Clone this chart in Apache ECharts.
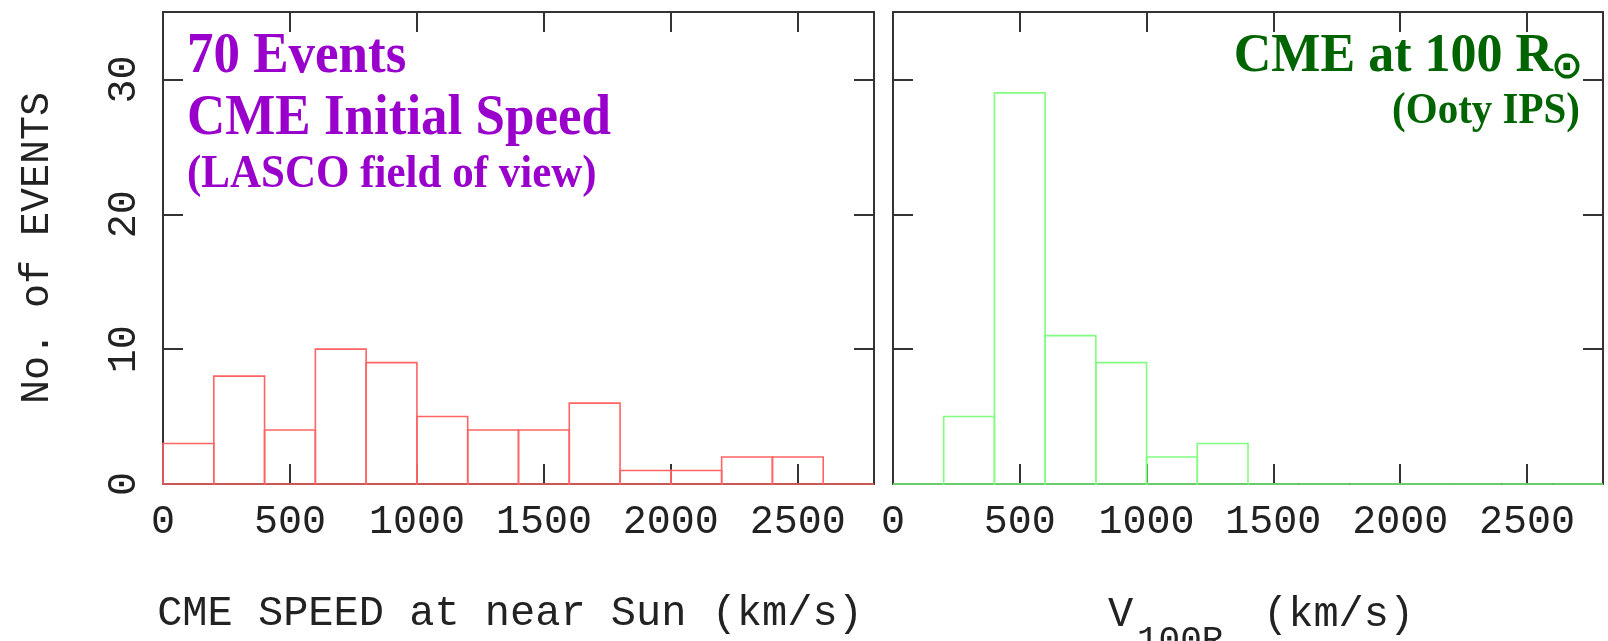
<!DOCTYPE html>
<html>
<head>
<meta charset="utf-8">
<script src="https://cdn.jsdelivr.net/npm/echarts@6/dist/echarts.min.js"></script>
<style>
html,body{margin:0;padding:0;background:#fff;}
#chart{width:1608px;height:641px;}
</style>
</head>
<body>
<div id="chart"></div>
<script>
// ---- data ----
const speedBinEdges = [0, 200, 400, 600, 800, 1000, 1200, 1400, 1600, 1800, 2000, 2200, 2400, 2600, 2800];
const lascoCounts = [3, 8, 4, 10, 9, 5, 4, 4, 6, 1, 1, 2, 2, 0];
const ipsCounts   = [0, 5, 29, 11, 9, 2, 3, 0, 0, 0, 0, 0, 0, 0];
const leftTitleLines = ['70 Events', 'CME Initial Speed', '(LASCO field of view)'];
const rightTitleLines = ['CME at 100 R', '⊙', '(Ooty IPS)'];
const xAxisTitleLeft = 'CME SPEED at near Sun (km/s)';
const xAxisTitleRight = ['V', '100R', '⊙', '(km/s)'];
const yAxisTitle = 'No. of EVENTS';

function toBins(edges, counts) {
  return counts.map((c, i) => [edges[i], edges[i + 1], c]);
}

const MONO = '"Liberation Mono", "DejaVu Sans Mono", monospace';
const SERIF = '"Liberation Serif", "Times New Roman", serif';
const AXC = '#333';
const TXT = '#222';

function xAx(gi, pos, labels) {
  return {
    type: 'value', gridIndex: gi, position: pos, min: 0, max: 2800, interval: 500,
    axisLine: { show: true, onZero: false, lineStyle: { color: AXC, width: 2 } },
    axisTick: { show: true, inside: true, length: 20, lineStyle: { color: AXC, width: 2 } },
    axisLabel: { show: labels, margin: 18, fontSize: 40, fontFamily: MONO, color: TXT, showMaxLabel: false,
      formatter: v => String(v) },
    splitLine: { show: false }
  };
}
function yAx(gi, pos, labels) {
  return {
    type: 'value', gridIndex: gi, position: pos, min: 0, max: 35, interval: 10,
    axisLine: { show: true, onZero: false, lineStyle: { color: AXC, width: 2 } },
    axisTick: { show: true, inside: true, length: 20, lineStyle: { color: AXC, width: 2 } },
    axisLabel: { show: labels, rotate: 90, margin: 19, fontSize: 40, fontFamily: MONO, color: TXT, showMaxLabel: false,
      formatter: v => String(v) },
    splitLine: { show: false }
  };
}

function histRender(color) {
  return function (params, api) {
    const x0 = api.value(0), x1 = api.value(1), h = api.value(2);
    const p0 = api.coord([x0, 0]);
    const p1 = api.coord([x1, h]);
    return {
      type: 'rect',
      shape: { x: p0[0], y: p1[1], width: p1[0] - p0[0], height: p0[1] - p1[1] },
      style: { fill: 'none', stroke: color, lineWidth: 1.6 }
    };
  };
}

const xLeft = xAx(0, 'bottom', true);
xLeft.name = xAxisTitleLeft;
xLeft.nameLocation = 'middle';
xLeft.nameGap = 109;
xLeft.nameTextStyle = { fontSize: 42, fontFamily: MONO, color: TXT, padding: [0, 17, 0, 0] };

const yLeft = yAx(0, 'left', true);
yLeft.name = yAxisTitle;
yLeft.nameLocation = 'middle';
yLeft.nameRotate = 90;
yLeft.nameGap = 106;
yLeft.nameTextStyle = { fontSize: 40, fontFamily: MONO, color: TXT };

const chart = echarts.init(document.getElementById('chart'), null, { renderer: 'canvas' });
chart.setOption({
  animation: false,
  backgroundColor: '#fff',
  grid: [
    { left: 163, top: 12, width: 711, height: 472 },
    { left: 893, top: 12, width: 710, height: 472 }
  ],
  xAxis: [xLeft, xAx(0, 'top', false), xAx(1, 'bottom', true), xAx(1, 'top', false)],
  yAxis: [yLeft, yAx(0, 'right', false), yAx(1, 'left', false), yAx(1, 'right', false)],
  series: [
    { type: 'custom', xAxisIndex: 0, yAxisIndex: 0, renderItem: histRender('#ff6464'),
      encode: { x: [0, 1], y: 2 }, data: toBins(speedBinEdges, lascoCounts), z: 1 },
    { type: 'custom', xAxisIndex: 2, yAxisIndex: 2, renderItem: histRender('#80ff80'),
      encode: { x: [0, 1], y: 2 }, data: toBins(speedBinEdges, ipsCounts), z: 1 }
  ],
  graphic: [
    { type: 'text', x: 187, y: 57, scaleY: 1.06, style: { text: leftTitleLines[0], font: 'bold 53px ' + SERIF, fill: '#9900cc', textAlign: 'left', textVerticalAlign: 'middle' } },
    { type: 'text', x: 187, y: 119, scaleY: 1.06, style: { text: leftTitleLines[1], font: 'bold 53px ' + SERIF, fill: '#9900cc', textAlign: 'left', textVerticalAlign: 'middle' } },
    { type: 'text', x: 187, y: 175, scaleY: 1.06, style: { text: leftTitleLines[2], font: 'bold 43px ' + SERIF, fill: '#9900cc', textAlign: 'left', textVerticalAlign: 'middle' } },
    { type: 'text', x: 1553, y: 57, scaleY: 1.06, style: { text: rightTitleLines[0], font: 'bold 52px ' + SERIF, fill: '#006400', textAlign: 'right', textVerticalAlign: 'middle' } },
    { type: 'text', x: 1567, y: 68, style: { text: rightTitleLines[1], font: 'bold 38px "DejaVu Sans", sans-serif', fill: '#006400', textAlign: 'center', textVerticalAlign: 'middle' } },
    { type: 'text', x: 1580, y: 112, scaleY: 1.06, style: { text: rightTitleLines[2], font: 'bold 41px ' + SERIF, fill: '#006400', textAlign: 'right', textVerticalAlign: 'middle' } },
    { type: 'text', x: 1108, y: 615, style: { text: xAxisTitleRight[0], font: '42px ' + MONO, fill: TXT, textAlign: 'left', textVerticalAlign: 'middle' } },
    { type: 'text', x: 1137, y: 641, style: { text: xAxisTitleRight[1], font: '36px ' + MONO, fill: TXT, textAlign: 'left', textVerticalAlign: 'middle' } },
    { type: 'text', x: 1234, y: 651, style: { text: xAxisTitleRight[2], font: '24px "DejaVu Sans", sans-serif', fill: TXT, textAlign: 'center', textVerticalAlign: 'middle' } },
    { type: 'text', x: 1263, y: 615, style: { text: xAxisTitleRight[3], font: '42px ' + MONO, fill: TXT, textAlign: 'left', textVerticalAlign: 'middle' } }
  ]
});
</script>
</body>
</html>
